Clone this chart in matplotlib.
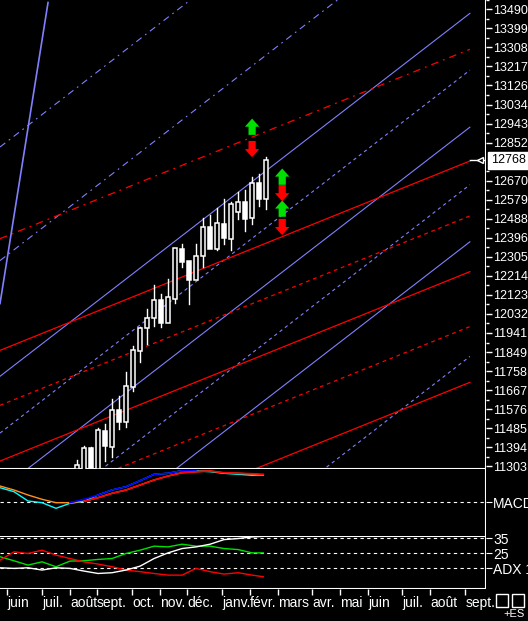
import matplotlib
matplotlib.use("Agg")
import matplotlib.pyplot as plt
from matplotlib.patches import Rectangle

plt.rcParams["font.family"] = ["Liberation Sans", "DejaVu Sans"]

# weekly candles, x = week index (0 = first visible candle)
candle_x = list(range(28))
opens = [11290, 11270, 11389, 11289, 11470, 11394, 11570, 11513, 11680, 11852,
         11962, 12010, 12096, 11986, 12105, 12344, 12287, 12196, 12311, 12449,
         12344, 12463, 12392, 12521, 12568, 12492, 12659, 12583]
highs = [11330, 11400, 11395, 11484, 11504, 11623, 11637, 11752, 11876, 11967,
         12057, 12172, 12129, 12201, 12349, 12368, 12287, 12368, 12492, 12506,
         12540, 12583, 12568, 12616, 12626, 12688, 12702, 12783]
lows = [11260, 11250, 11250, 11280, 11327, 11346, 11480, 11489, 11661, 11800,
        11890, 11976, 11967, 11986, 12086, 12258, 12077, 12196, 12258, 12344,
        12339, 12368, 12339, 12487, 12430, 12463, 12549, 12535]
closes = [11310, 11389, 11280, 11475, 11399, 11570, 11513, 11685, 11857, 11962,
          12010, 12096, 11986, 12115, 12349, 12282, 12196, 12311, 12449, 12344,
          12468, 12397, 12559, 12568, 12487, 12659, 12583, 12769]
last_price = 12768

# channel lines: price at line_x0 and at line_x1
line_x0, line_x1 = -11, 56.1
blue_start = [12831, 12287, 11733, 11461, 11188, 10912, 10639, 10090]
blue_end = [14569, 14025, 13471, 13199, 12926, 12650, 12377, 11828]
blue_style = ["dashdot", "dashdot", "solid", "dashed", "solid", "dashed", "solid", "dashed"]
red_start = [12392, 11857, 11594, 11327, 11064, 10797]
red_end = [13299, 12764, 12501, 12234, 11971, 11704]
red_style = ["dashdot", "solid", "dashed", "solid", "dashed", "solid"]
steep_line = [(-11, 12081), (-4.14, 13523)]

up_arrows = [(25, 12927), (29.3, 12688), (29.3, 12535)]
down_arrows = [(25, 12822), (29.3, 12611), (29.3, 12449)]

price_ticks = [13490, 13399, 13308, 13217, 13126, 13034, 12943, 12852, 12670, 12579,
               12488, 12396, 12305, 12214, 12123, 12032, 11941, 11849, 11758, 11667,
               11576, 11485, 11394, 11303]

# indicators on a 2-week grid
ind_x = [-11, -9, -7, -5, -3, -1, 1, 3, 5, 7, 9, 11, 13, 15, 17, 19, 21, 23, 25, 26.6]
macd_cyan = [14.3, 10.3, 1, -0.7, -6.3, -1.3, 0.7, 7, 12, 15.3, 21.3, 27.7, 28.7, 31.3,
             31, 30.3, 28.7, 27.7, 26.7, 27.3]
macd_orange = [16, 12, 7, 2.7, -0.7, -0.7, 0.7, 4.3, 8.7, 12, 17, 22, 26, 29.3, 30.3,
               31, 29, 28.7, 28, 27]
macd_blue = [-0.7, 2.7, 7, 12, 15.3, 21.3, 27.7, 28.7, 31.3, 31]  # ind_x[5:15]
macd_red = [0.7, 4.3, 8.7, 12, 17, 22, 26, 29.3, 30.3, 31, 29.3, 28.7, 28.3, 27.7]  # ind_x[6:]
adx = [15.2, 14.8, 15.2, 13.7, 15.2, 14.8, 13, 11.4, 11.9, 13.7, 16.3, 21.4, 25.2, 28.1,
       29.2, 31, 34.1, 34.8, 35.9, 36.3]
di_plus = [22.6, 19.9, 17, 19.2, 15.9, 19.7, 19.9, 20.8, 21.4, 24.8, 27, 29.7, 29.2, 31,
           29.7, 29.7, 28.1, 27.4, 25.2, 25.2]
di_minus = [20.3, 25.9, 24.8, 27, 23.7, 21.4, 19.2, 17.7, 15.9, 13.7, 12.6, 11.4, 10.3,
            10.3, 14.8, 12.6, 11, 11.9, 10.3, 9.2]

month_x = [-10, -5, -1, 2.86, 7.86, 11.86, 15.71, 20.71, 24.71, 28.71, 33.57, 37.57,
           41.57, 46.43, 50.43, 55.43]
month_labels = ["juin", "juil.", "août", "sept.", "oct.", "nov.", "déc.", "janv.",
                "févr.", "mars", "avr.", "mai", "juin", "juil.", "août", "sept."]

W, H = 528, 621
XMIN, XMAX = -11, 58.4
BLUE = "#8080ff"
dash_styles = {"solid": "-", "dashed": (0, (3, 3)), "dashdot": (0, (6, 4, 1.5, 4))}

fig = plt.figure(figsize=(W / 100, H / 100), dpi=100, facecolor="black")
axw = 486 / W
ax = fig.add_axes([0, (H - 469) / H, axw, 469 / H])
ax_m = fig.add_axes([0, (H - 536) / H, axw, 67 / H])
ax_a = fig.add_axes([0, (H - 589) / H, axw, 53 / H])
for a in (ax, ax_m, ax_a):
    a.set_facecolor("black")
    a.set_xlim(XMIN, XMAX)
    for s in a.spines.values():
        s.set_visible(False)
    a.tick_params(colors="white", labelcolor="white")

# price panel
ax.set_ylim(11289, 13523)
for s0, s1, st in zip(blue_start, blue_end, blue_style):
    ax.plot([line_x0, line_x1], [s0, s1], color=BLUE, lw=0.8, linestyle=dash_styles[st])
for s0, s1, st in zip(red_start, red_end, red_style):
    ax.plot([line_x0, line_x1], [s0, s1], color="red", lw=0.9, linestyle=dash_styles[st])
ax.plot([steep_line[0][0], steep_line[1][0]], [steep_line[0][1], steep_line[1][1]],
        color=BLUE, lw=1.2)

for x, o, h, l, c in zip(candle_x, opens, highs, lows, closes):
    lo, hi = min(o, c), max(o, c)
    ax.plot([x, x], [l, lo], color="white", lw=1)
    ax.plot([x, x], [hi, h], color="white", lw=1)
    face = "black" if c > o else "white"
    ax.add_patch(Rectangle((x - 0.33, lo), 0.66, hi - lo, facecolor=face,
                           edgecolor="white", lw=1.1, zorder=3))

arrow_style = "simple,head_width=0.8,head_length=0.45,tail_width=0.4"
for x, y in up_arrows:
    ax.annotate("", xy=(x, y + 40), xytext=(x, y - 38),
                arrowprops=dict(arrowstyle=arrow_style, mutation_scale=13, shrinkA=0,
                                shrinkB=0, color="#00e000", lw=0))
for x, y in down_arrows:
    ax.annotate("", xy=(x, y - 40), xytext=(x, y + 38),
                arrowprops=dict(arrowstyle=arrow_style, mutation_scale=13, shrinkA=0,
                                shrinkB=0, color="red", lw=0))

ax.yaxis.tick_right()
ax.set_yticks(price_ticks)
ax.set_yticks([t + 45 for t in price_ticks], minor=True)
ax.tick_params(axis="y", which="major", length=4, width=1, labelsize=9, pad=1)
ax.tick_params(axis="y", which="minor", length=2, width=1, colors="white")
ax.set_xticks([])
ax.axvline(XMAX, color="white", lw=1.5)
ax.plot([line_x1, XMAX], [last_price, last_price], color="white", lw=1)
ax.plot([XMAX - 0.9], [last_price], marker="<", ms=5, mfc="black", mec="white",
        clip_on=False)
ax.text(1.01, last_price, "12768", transform=ax.get_yaxis_transform(), color="black",
        fontsize=9, va="center", ha="left",
        bbox=dict(boxstyle="square,pad=0.2", fc="white", ec="white"))
ax.axhline(11289, color="white", lw=1.5)

# MACD panel
ax_m.set_ylim(-34, 33)
ax_m.axhline(0, color="white", lw=0.8, linestyle=(0, (3, 3)))
ax_m.plot(ind_x, macd_cyan, color="cyan", lw=1)
ax_m.plot(ind_x, macd_orange, color="#ff9020", lw=1)
ax_m.plot(ind_x[5:15], macd_blue, color="blue", lw=1.2)
ax_m.plot(ind_x[6:], macd_red, color="red", lw=1.2)
ax_m.set_xticks([])
ax_m.yaxis.tick_right()
ax_m.set_yticks([0])
ax_m.set_yticklabels(["MACD"])
ax_m.tick_params(axis="y", length=4, labelsize=10, pad=1)
ax_m.axvline(XMAX, color="white", lw=1.5)

# ADX panel
ax_a.set_ylim(1, 36.5)
for lev in (35, 25, 15):
    ax_a.axhline(lev, color="white", lw=0.8, linestyle=(0, (3, 3)))
ax_a.plot(ind_x, di_plus, color="#00e000", lw=1)
ax_a.plot(ind_x, di_minus, color="red", lw=1)
ax_a.plot(ind_x, adx, color="white", lw=1)
ax_a.axhline(36.3, color="white", lw=1.5)
ax_a.axhline(1, color="white", lw=1.5)
ax_a.axvline(XMAX, color="white", lw=1.5)
ax_a.yaxis.tick_right()
ax_a.set_yticks([35, 25, 15])
ax_a.set_yticklabels(["35", "25", "ADX 14"])
ax_a.tick_params(axis="y", length=4, labelsize=10, pad=1)
ax_a.set_xticks(month_x)
ax_a.set_xticklabels(month_labels, ha="left")
ax_a.tick_params(axis="x", length=4, width=1, labelsize=10, pad=1, direction="out")

fig.add_artist(Rectangle((496 / W, 14 / H), 12 / W, 13 / H, transform=fig.transFigure,
                         fill=False, ec="white", lw=1))
fig.add_artist(Rectangle((512 / W, 14 / H), 12 / W, 13 / H, transform=fig.transFigure,
                         fill=False, ec="white", lw=1))
fig.text(525 / W, 2 / H, "+ES", color="white", fontsize=8, ha="right", va="bottom")

fig.savefig("out.png", dpi=100, facecolor="black")
